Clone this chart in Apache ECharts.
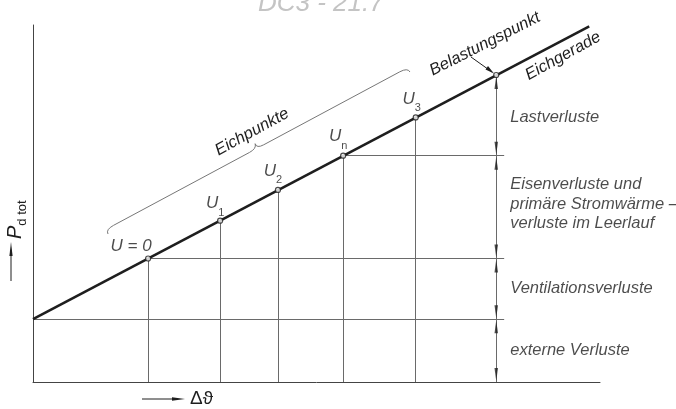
<!DOCTYPE html>
<html>
<head>
<meta charset="utf-8">
<script src="https://cdn.jsdelivr.net/npm/echarts@6/dist/echarts.min.js"></script>
<style>
  html, body { margin: 0; padding: 0; background: #fff; }
  #chart { width: 676px; height: 409px; }
</style>
</head>
<body>
<div id="chart"></div>
<script>
// Eichgerade (Anfang und Ende)
var lineX = [0, 98.1];
var lineY = [17.6, 99.6];
// Eichpunkte U=0, U1, U2, Un, U3 und Belastungspunkt
var pointNames = ['U=0', 'U1', 'U2', 'Un', 'U3', 'Belastungspunkt'];
var pointX = [20.3, 33.0, 43.2, 54.7, 67.5, 81.7];
var pointY = [34.6, 45.2, 53.8, 63.4, 74.1, 86.0];
// waagerechte Hilfslinien
var levelY = [17.6, 34.6, 63.4];
var levelStartX = [0, 20.3, 54.7];
var levelEndX = 83.1;
// Bemaßung der Verluste
var dimX = 81.7;
var dimBounds = [0, 17.6, 34.6, 63.4, 86.0];
var lossNames = ['externe Verluste', 'Ventilationsverluste',
    'Eisenverluste und\nprimäre Stromwärme –\nverluste im Leerlauf', 'Lastverluste'];

var FONT = '"Liberation Sans", Arial, sans-serif';
var INK = '#1e1e1e';
var THIN = '#6a6a6a';

var myChart = echarts.init(document.getElementById('chart'), null, {renderer: 'canvas'});

var thinLines = [];
levelY.forEach(function (y, i) {
    thinLines.push({coords: [[levelStartX[i], y], [levelEndX, y]]});
});
for (var i = 0; i < 5; i++) {
    thinLines.push({coords: [[pointX[i], 0], [pointX[i], pointY[i]]]});
}
thinLines.push({coords: [[dimX, 0], [dimX, pointY[5]]]});

// Beschriftung der Eichpunkte (Versatz in px)
var labelOffsets = [[-17, -12], [-5, -14], [-5, -16], [-5, -16], [-4, -15]];
function uLabel(name) {
    if (name.indexOf('=') > 0) return '{u|U = 0}';
    return '{u|U}{s|' + name.slice(1) + '}';
}

var pointData = pointX.map(function (x, i) {
    var item = {value: [x, pointY[i]], name: pointNames[i]};
    if (i < 5) {
        item.label = {
            show: true,
            position: 'inside',
            offset: labelOffsets[i],
            formatter: uLabel(pointNames[i])
        };
    }
    return item;
});

// Texte rechts neben der Bemaßung
function lossCenter(i) {
    return (dimBounds[i] + dimBounds[i + 1]) / 2;
}
var lossOffsets = [[0, 0], [0, 0], [0, -3], [0, 2]];

var upArrow = 'path://M5,0 L10,40 L0,40 Z';
var downArrow = 'path://M0,0 L10,0 L5,40 Z';

option = {
    animation: false,
    backgroundColor: '#fff',
    grid: {left: 33, right: 76, top: 25, bottom: 27},
    xAxis: {
        type: 'value', min: 0, max: 100,
        axisLine: {show: true, lineStyle: {color: '#444', width: 1}},
        axisTick: {show: false}, axisLabel: {show: false}, splitLine: {show: false}
    },
    yAxis: {
        type: 'value', min: 0, max: 100,
        axisLine: {show: true, lineStyle: {color: '#444', width: 1}},
        axisTick: {show: false}, axisLabel: {show: false}, splitLine: {show: false}
    },
    series: [
        {
            type: 'lines',
            coordinateSystem: 'cartesian2d',
            silent: true,
            z: 1,
            lineStyle: {color: THIN, width: 1, opacity: 1},
            data: thinLines
        },
        {
            name: 'Eichgerade',
            type: 'line',
            showSymbol: false,
            silent: true,
            z: 3,
            lineStyle: {color: INK, width: 2.6},
            data: lineX.map(function (x, i) { return [x, lineY[i]]; })
        },
        {
            type: 'scatter',
            symbol: 'circle',
            symbolSize: 5,
            z: 5,
            itemStyle: {color: '#fff', borderColor: INK, borderWidth: 1.2},
            label: {
                color: INK,
                rich: {
                    u: {fontFamily: FONT, fontStyle: 'italic', fontSize: 17, color: INK,
                        lineHeight: 18, verticalAlign: 'top'},
                    s: {fontFamily: FONT, fontSize: 11, color: INK,
                        lineHeight: 23, verticalAlign: 'bottom'}
                }
            },
            data: pointData
        },
        {
            type: 'scatter',
            symbol: upArrow,
            symbolSize: [3.5, 13],
            symbolOffset: [0, 7.5],
            silent: true,
            z: 4,
            itemStyle: {color: INK},
            data: dimBounds.slice(1).map(function (y) { return [dimX, y]; })
        },
        {
            type: 'scatter',
            symbol: downArrow,
            symbolSize: [3.5, 13],
            symbolOffset: [0, -7.5],
            silent: true,
            z: 4,
            itemStyle: {color: INK},
            data: dimBounds.slice(0, 4).map(function (y) { return [dimX, y]; })
        },
        {
            // Texte der Verlustanteile
            type: 'scatter',
            symbolSize: 0,
            silent: true,
            label: {
                show: true,
                position: 'right',
                distance: 14,
                formatter: '{b}',
                fontFamily: FONT,
                fontStyle: 'italic',
                fontSize: 16.5,
                lineHeight: 19.5,
                color: INK
            },
            data: lossNames.map(function (n, i) {
                return {name: n, value: [dimX, lossCenter(i)], label: {offset: lossOffsets[i]}};
            })
        }
    ]
};

myChart.setOption(option);

// Geschweifte Klammer über den Eichpunkten
function braceParts() {
    var ax = 108, ay = 234, bx = 410, by = 72;
    var L = Math.sqrt((bx - ax) * (bx - ax) + (by - ay) * (by - ay));
    var ux = (bx - ax) / L, uy = (by - ay) / L;
    var nx = uy, ny = -ux;   // Normale nach oben links
    function P(t, s) {
        return [ax + t * ux + s * nx, ay + t * uy + s * ny];
    }
    var m = L / 2;
    var st = {stroke: '#777', lineWidth: 1, fill: null};
    function curve(a, c, b) {
        return {type: 'bezierCurve', silent: true,
            shape: {x1: a[0], y1: a[1], cpx1: c[0], cpy1: c[1], x2: b[0], y2: b[1]}, style: st};
    }
    function seg(a, b) {
        return {type: 'line', silent: true,
            shape: {x1: a[0], y1: a[1], x2: b[0], y2: b[1]}, style: st};
    }
    return [
        curve(P(0, 0), P(0, 5), P(9, 5)),
        seg(P(9, 5), P(m - 8, 5)),
        curve(P(m - 8, 5), P(m, 5), P(m + 1, 10)),
        curve(P(m + 1, 10), P(m, 5), P(m + 8, 5)),
        seg(P(m + 8, 5), P(L - 9, 5)),
        curve(P(L - 9, 5), P(L, 5), P(L, 0))
    ];
}

function rad(d) { return d * Math.PI / 180; }

function txt(s, x, y, deg) {
    return {
        type: 'text', x: x, y: y, rotation: rad(deg), silent: true,
        style: {text: s, fontFamily: FONT, fontStyle: 'italic', fontSize: 16.5, fill: INK,
            align: 'center', verticalAlign: 'middle'}
    };
}

var graphics = braceParts().concat([
    txt('Eichpunkte', 252, 132, 29),
    txt('Belastungspunkt', 485, 44, 27),
    txt('Eichgerade', 563, 56, 29),
    // Hinweislinie zum Belastungspunkt
    {type: 'line', silent: true, shape: {x1: 471, y1: 57, x2: 492, y2: 72},
        style: {stroke: INK, lineWidth: 1}},
    {type: 'polygon', silent: true, shape: {points: [[494, 73.5], [485.5, 69.5], [488, 66]]},
        style: {fill: INK}},
    // Achsenbeschriftung y
    {type: 'line', silent: true, shape: {x1: 11, y1: 281, x2: 11, y2: 250},
        style: {stroke: INK, lineWidth: 1}},
    {type: 'polygon', silent: true, shape: {points: [[11, 242], [12.6, 256], [9.4, 256]]},
        style: {fill: INK}},
    {
        type: 'text', x: 5, y: 239, rotation: rad(90), silent: true,
        style: {
            text: '{p|P}{s|d tot}',
            align: 'left', verticalAlign: 'top',
            rich: {
                p: {fontFamily: FONT, fontStyle: 'italic', fontSize: 20, fill: INK,
                    lineHeight: 19, verticalAlign: 'top'},
                s: {fontFamily: FONT, fontSize: 13, fill: INK,
                    lineHeight: 24, verticalAlign: 'bottom'}
            }
        }
    },
    // Achsenbeschriftung x
    {type: 'line', silent: true, shape: {x1: 142, y1: 399, x2: 176, y2: 399},
        style: {stroke: INK, lineWidth: 1}},
    {type: 'polygon', silent: true, shape: {points: [[185, 399], [172, 397.3], [172, 400.7]]},
        style: {fill: INK}},
    {
        type: 'text', x: 190, y: 399, silent: true,
        style: {text: 'Δϑ', fontFamily: FONT, fontSize: 19,
            fill: INK, align: 'left', verticalAlign: 'middle'}
    },
    // Randnotiz oben (angeschnitten)
    {
        type: 'text', x: 258, y: 17, silent: true,
        style: {text: 'DC3 - 21.7', fontFamily: FONT, fontStyle: 'italic', fontSize: 26,
            fill: '#c4c4c4', align: 'left', verticalAlign: 'bottom'}
    }
]);

myChart.setOption({graphic: graphics});
</script>
</body>
</html>
